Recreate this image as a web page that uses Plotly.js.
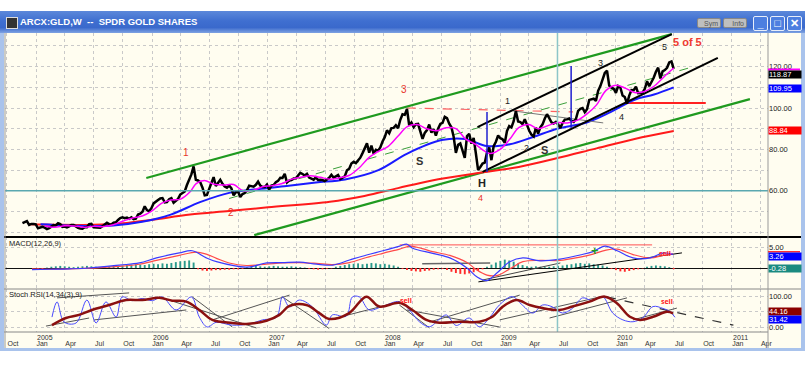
<!DOCTYPE html>
<html><head><meta charset="utf-8">
<script src="https://cdn.plot.ly/plotly-3.0.1.min.js"></script>
<style>
body{margin:0;background:#fff;width:807px;height:366px;overflow:hidden;font-family:Arial,"Liberation Sans",sans-serif;}
#win{position:absolute;left:0;top:11px;width:805px;height:340px;background:#a9c3ec;}
#cream{position:absolute;left:4px;top:33px;width:797px;height:315px;background:#fffdf0;}
#tbar{position:absolute;left:0;top:11px;width:805px;height:22px;background:linear-gradient(#5c88da,#3f6fd0 45%,#3a69cc 75%,#7ea2e2);}
#ico{position:absolute;left:6px;top:17px;width:10px;height:10px;background:#333;border:1px solid #ddd;}
.btn{position:absolute;top:18px;height:10px;width:24px;background:#bfbfbf;border:1px solid #888;border-radius:2px;font-size:7px;line-height:10px;color:#555;text-align:right;padding-right:2px;box-sizing:border-box;}
.wc{position:absolute;top:16px;width:15px;height:15px;background:#4d7fe0;border:1px solid #e8eefa;border-radius:2px;box-sizing:border-box;color:#fff;font-size:11px;line-height:13px;text-align:center;font-weight:bold;}
#chart{position:absolute;left:0;top:0;}
</style></head>
<body>
<div id="win"></div><div id="cream"></div><div id="tbar"></div><div id="ico"></div>
<div class="btn" style="left:697px">Sym</div><div class="btn" style="left:723px">Info</div>
<div class="wc" style="left:753px">_</div><div class="wc" style="left:770px">&#9633;</div><div class="wc" style="left:787px">&#10005;</div>
<div id="chart"></div>
<script>
// ---------------- DATA ----------------
const priceStart = '2004-11-19';           // first weekly bar (Friday)
const close2004 = [44.4,44.9,45.4,43.5,44.0,43.9,43.8];
const close2005 = [41.9,42.3,42.6,42.2, 41.5,42.0,42.6,43.4, 43.3,44.3,43.9,42.6, 42.7,42.3,42.8,43.5,43.5,
  42.6,42.1,41.8,41.7, 42.4,42.4,43.9,44.0, 42.4,42.3,42.1,42.2,42.9, 43.6,44.6,43.9,43.7,
  44.6,44.8,45.9,46.8,47.2, 46.8,47.1,46.5,47.2, 46.3,46.5,48.5,48.9, 49.9,52.5,50.7,50.1,51.6];
const close2006 = [53.9,54.9,55.5,56.3, 56.5,54.4,54.6,55.9, 56.4,54.2,55.4,56.1,58.2, 58.9,59.7,62.8,65.2,
  67.9,71.8,65.3,65.0, 64.1,61.5,57.8,58.0,61.2, 63.4,66.6,62.3,63.8, 65.3,63.4,62.1,61.5,
  62.5,61.2,57.8,59.3,59.7, 57.0,58.4,58.9,60.2, 62.5,62.2,62.0,62.9, 64.4,62.5,61.8,61.8,63.0];
const close2007 = [60.6,62.5,62.8,64.1, 64.8,66.3,66.2,68.2, 64.0,64.9,65.2,65.9,66.0, 67.4,68.7,68.1,67.4,
  68.2,66.4,65.9,65.4, 66.5,65.2,65.3,65.2,64.7, 65.4,66.3,67.7,66.4, 67.0,67.6,65.7,66.5,67.0,
  69.9,70.7,73.2,74.0, 73.4,74.8,76.0,78.2, 80.4,82.9,78.4,81.8,78.0, 79.8,79.4,80.9,83.8];
const close2008 = [85.9,89.2,87.8,90.3, 90.4,91.7,90.2,94.3,97.0, 96.7,99.5,91.6,93.0, 90.8,92.2,92.3,88.3,
  85.1,88.0,89.3,92.0,88.1, 89.8,86.7,90.0,92.3, 92.8,95.7,95.1,92.4, 90.7,86.1,78.3,82.2,82.9,
  79.5,75.9,86.4,87.5, 82.8,85.5,78.0,70.0,71.5, 73.2,73.6,78.6,80.9, 74.8,81.6,83.7,86.7];
const close2009 = [85.4,84.9,83.2,88.9,91.3, 90.6,93.6,98.6,93.5, 93.2,92.2,94.6,91.6, 89.0,87.1,86.2,90.5,
  87.7,90.7,92.1,94.9,97.0, 95.1,93.1,92.5,93.3, 92.1,90.3,92.8,94.4,94.5, 94.9,93.8,93.3,94.7,
  98.6,99.6,100.0,98.0, 99.4,103.9,104.1,104.5,103.4, 108.3,110.6,113.3,116.9, 118.0,110.8,109.8,109.3];
const close2010 = [107.3,110.6,109.9,106.0,105.3, 102.1,106.0,108.7,108.6, 110.3,107.2,107.4,107.4,
  109.3,112.9,110.5,112.4,114.6, 117.5,119.5,114.3,117.7, 118.3,119.4,122.0,122.5, 118.87];

// moving averages
const maFastDates = ['2005-01-28','2005-03-01','2005-04-01','2005-05-01','2005-06-01','2005-07-01','2005-08-01','2005-09-01','2005-10-01','2005-11-01','2005-12-01',
 '2006-01-01','2006-02-01','2006-03-01','2006-04-01','2006-05-01','2006-05-20','2006-06-15','2006-07-15','2006-08-15','2006-09-15','2006-10-15','2006-11-15','2006-12-15',
 '2007-01-15','2007-02-15','2007-03-15','2007-04-15','2007-05-15','2007-06-15','2007-07-15','2007-08-15','2007-09-15','2007-10-15','2007-11-15','2007-12-15',
 '2008-01-15','2008-02-15','2008-03-15','2008-04-15','2008-05-15','2008-06-15','2008-07-15','2008-08-15','2008-09-15','2008-10-15','2008-11-15','2008-12-01',
 '2009-01-01','2009-02-01','2009-03-01','2009-04-01','2009-05-01','2009-06-01','2009-07-01','2009-08-01','2009-09-01','2009-10-01','2009-11-01','2009-12-01',
 '2010-01-01','2010-02-01','2010-03-01','2010-04-01','2010-05-01','2010-06-01','2010-07-02'];
const maFast = [43.0,42.4,43.1,43.0,42.4,42.9,42.7,43.6,45.3,46.9,47.8,
 50.3,54.0,55.6,56.0,59.5,63.5,65.0,63.2,62.8,63.0,60.0,60.2,62.0,
 62.5,63.5,65.5,66.5,67.3,66.5,65.6,66.3,67.5,71.0,76.0,79.0,
 81.5,86.5,91.0,92.0,90.0,89.0,90.5,90.0,85.0,82.5,79.0,78.0,
 80.0,85.0,90.5,92.0,90.0,91.5,93.0,92.8,94.0,97.0,101.5,108.5,
 111.0,109.5,107.5,108.0,110.5,115.0,119.3];
const maMidDates = ['2005-01-15','2005-06-01','2005-09-01','2005-12-01','2006-03-01','2006-06-01','2006-09-01','2006-12-01','2007-03-01','2007-06-01','2007-09-01','2007-12-15',
 '2008-03-15','2008-07-01','2008-09-15','2008-11-21','2009-02-01','2009-04-15','2009-07-01','2009-10-01','2009-12-15','2010-03-01','2010-05-01','2010-07-02'];
const maMid = [43.8,43.0,43.2,45.0,48.5,54.5,59.0,60.8,62.3,64.0,65.5,70.0,
 78.0,84.5,85.0,81.6,82.5,86.0,90.0,93.0,98.0,104.0,106.5,109.95];
const maSlowDates = ['2004-12-10','2005-03-01','2005-07-01','2005-10-01','2006-01-01','2006-05-01','2006-09-01','2007-01-01','2007-07-15','2007-11-01',
 '2008-02-15','2008-06-01','2008-10-25','2009-03-01','2009-07-01','2009-11-01','2010-03-01','2010-07-02'];
const maSlow = [43.8,43.6,43.6,44.3,46.0,48.5,50.2,52.0,54.7,57.5,61.3,65.0,68.6,71.5,75.8,80.5,85.0,88.84];

// drawn trend lines (start / end)
const greenUpper = {x:['2005-12-14','2010-06-26'], y:[66.2,135.7]};
const greenLower = {x:['2006-11-19','2011-02-27'], y:[38.6,104.3]};
const greenMid   = {x:['2006-09-01','2010-09-10'], y:[56.3,120.3]};
const blackUpper = {x:['2008-10-22','2010-06-26'], y:[90.8,135.7]};
const blackLower = {x:['2008-11-07','2010-11-18'], y:[69.1,124.2]};
const neckLine   = {x:['2009-02-11','2009-11-22'], y:[98.6,92.8]};
const redDashed  = {x:['2008-03-13','2009-08-19'], y:[100.0,98.1]};
const redSupport = {x:['2010-01-29','2010-10-11'], y:[102.4,102.4]};
const blueVert1  = {x:['2008-11-21','2008-11-21'], y:[98.1,69.1]};
const blueVert2  = {x:['2009-08-13','2009-08-13'], y:[120.3,90.3]};

// MACD(12,26,9)
const histStart = '2005-01-07';   // biweekly histogram bars
const macdHist = [-0.2,-0.3,0.1,
 0.3,0.4,0.5,0.4,0.3,0.2,0.3,0.4,0.5,0.4,0.3,0.2,0.3,0.4,0.5,
 0.5,0.6,0.7,0.8,0.9,0.8,0.7,
 0.9,1.0,0.9,1.1,1.0,1.2,1.4,1.6,1.7,1.8,1.3,
 -0.3,-0.6,-0.7,-0.6,-0.5,-0.5,-0.4,-0.4,-0.3,-0.3,-0.2,
 0.2,0.4,0.5,0.4,0.3,0.4,0.5,0.4,0.3,0.3,0.4,0.3,0.2,0.1,
 -0.2,-0.3,-0.4,-0.3,-0.2,-0.1,
 0.3,0.5,0.7,0.9,1.0,1.1,0.9,1.0,1.2,1.1,0.9,1.0,0.8,0.6,0.3,
 -0.2,-0.5,-0.7,-0.8,-0.9,-0.7,-0.6,-0.4,-0.3,-0.2,
 -0.5,-0.9,-1.2,-1.4,-1.5,-1.3,-1.0,-0.7,-0.3,0.3,
 0.8,1.3,1.7,2.0,1.8,1.5,1.1,0.7,0.4,
 0.3,0.4,0.3,0.2,0.3,0.4,
 0.5,0.6,0.8,0.9,1.1,1.2,1.0,1.1,0.9,0.8,0.6,0.3,
 -0.2,-0.5,-0.8,-0.9,-0.7,-0.5,-0.3,-0.1,
 0.3,0.5,0.6,0.5,0.4,0.2,-0.28];
const macdDates = ['2004-12-19','2005-02-11','2005-04-15','2005-06-17','2005-09-20','2005-11-22','2006-01-15','2006-03-28','2006-05-08','2006-06-21','2006-07-23','2006-10-25',
 '2006-12-28','2007-02-16','2007-04-11','2007-06-03','2007-07-24','2007-09-15','2007-11-08','2007-12-29','2008-02-20','2008-03-13','2008-04-01','2008-06-03',
 '2008-07-27','2008-09-19','2008-10-20','2008-11-21','2008-12-22','2009-02-01','2009-03-14','2009-05-07','2009-07-09','2009-09-10','2009-10-21','2009-11-28',
 '2010-01-05','2010-02-24','2010-04-19','2010-05-30','2010-06-30'];
const macdLine = [-0.4,-0.3,-0.2,0.0,0.7,1.2,2.4,3.6,4.1,2.4,1.5,0.2,
 1.2,1.3,1.4,0.9,0.7,1.9,3.1,4.1,5.2,5.7,4.7,3.5,
 2.4,0.0,-2.1,-3.0,-1.2,1.5,2.4,1.7,2.1,3.1,3.9,5.2,
 4.1,2.4,2.4,3.6,3.26];
const signalDates = ['2004-12-19','2005-03-01','2005-06-01','2005-09-20','2005-11-22','2006-01-15','2006-03-28','2006-05-20','2006-06-21','2006-07-23','2006-09-01','2006-10-25',
 '2006-12-28','2007-02-16','2007-04-11','2007-06-03','2007-07-24','2007-09-15','2007-11-08','2007-12-29','2008-02-20','2008-03-25','2008-05-01','2008-06-03',
 '2008-07-27','2008-09-19','2008-10-20','2008-11-21','2008-12-22','2009-02-01','2009-03-14','2009-05-07','2009-07-09','2009-09-10','2009-10-21','2009-11-28',
 '2010-01-05','2010-02-24','2010-04-19','2010-05-30','2010-06-30'];
const signalLine = [-0.2,-0.3,-0.1,0.4,0.9,1.8,3.0,3.8,3.3,2.3,1.2,0.6,
 0.9,1.2,1.3,1.1,0.8,1.3,2.5,3.5,4.5,5.2,4.6,3.9,
 3.0,1.3,-0.5,-1.7,-1.8,-0.2,1.5,1.8,1.8,2.6,3.3,4.2,
 4.5,3.2,2.4,3.0,3.4];
const macdRedLevel = {x:['2008-02-20','2010-04-25'], y:[5.5,5.5]};
const macdTrend1 = {x:['2008-10-25','2010-07-28'], y:[-3.3,3.6]};
const macdTrend2 = {x:['2008-11-05','2009-07-10'], y:[-2.9,1.2]};
const macdFlat   = {x:['2008-05-01','2008-12-01'], y:[1.0,1.2]};

// Stoch RSI(14,34(3),9)
const stochSlowDates = ['2005-02-20','2005-04-05','2005-05-16','2005-06-26','2005-08-19','2005-10-11','2005-12-01','2006-01-24','2006-03-06','2006-04-19','2006-05-30','2006-07-10',
 '2006-09-11','2006-10-25','2006-12-27','2007-02-06','2007-03-10','2007-05-02','2007-06-12','2007-07-13','2007-09-14','2007-11-07','2007-12-18','2008-02-19',
 '2008-03-31','2008-05-14','2008-06-24','2008-08-26','2008-10-28','2008-12-08','2009-01-09','2009-02-22','2009-04-04','2009-05-15','2009-07-07','2009-08-17',
 '2009-10-10','2009-11-27','2010-01-04','2010-02-14','2010-03-18','2010-04-28','2010-06-11','2010-06-30'];
const stochSlow = [6,29,39,55,71,87,87,94,85,82,55,23,
 13,10,20,39,68,71,45,26,45,98,66,78,
 55,23,14,17,17,33,65,87,71,61,55,66,
 82,98,77,33,23,33,49,44.16];
const stochFastDates = ['2005-02-20','2005-03-08','2005-03-30','2005-05-07','2005-06-10','2005-07-09','2005-08-09','2005-09-10','2005-09-29','2005-10-30','2005-12-01','2006-01-02',
 '2006-02-02','2006-03-18','2006-05-05','2006-05-30','2006-06-24','2006-07-22','2006-09-11','2006-11-04','2006-12-15','2007-01-28','2007-02-16','2007-03-10',
 '2007-04-10','2007-05-21','2007-07-04','2007-07-23','2007-09-05','2007-09-24','2007-10-16','2007-11-16','2007-12-27','2008-02-19','2008-03-22','2008-04-22',
 '2008-05-24','2008-06-24','2008-07-16','2008-08-16','2008-09-26','2008-10-28','2008-11-29','2008-12-30','2009-02-09','2009-03-13','2009-04-14','2009-05-15',
 '2009-06-15','2009-07-17','2009-08-17','2009-09-18','2009-10-19','2009-11-20','2009-12-22','2010-01-23','2010-02-24','2010-03-27','2010-04-28','2010-05-29',
 '2010-06-20','2010-07-06'];
const stochFast = [32,81,16,13,87,13,81,32,97,85,92,85,
 97,55,97,32,0,15,6,10,23,32,97,65,
 87,65,6,39,35,97,97,55,66,82,55,17,
 1,25,39,5,29,1,30,71,98,70,45,71,
 65,45,60,94,85,98,45,23,17,30,66,60,
 50,31.42];
// trend lines drawn on the Stoch RSI panel
const stochTrendStart = ['2005-02-01','2005-03-08','2005-07-03','2006-01-24','2006-05-08','2006-07-10','2007-02-16','2007-07-23',
 '2008-02-19','2008-03-13','2008-05-24','2008-12-31','2009-06-06','2010-02-24'];
const stochTrendEnd   = ['2005-06-17','2005-10-21','2006-04-19','2006-11-26','2006-09-11','2007-03-10','2007-07-13','2008-02-19',
 '2008-05-24','2008-12-31','2009-03-04','2009-11-12','2010-02-05','2010-07-12'];
const stochTrendFrom  = [3,94,23,97,97,23,97,26,71,55,16,23,29,23];
const stochTrendTo    = [29,110,55,-3,0,103,-5,81,-3,0,103,97,94,61];
const stochDashed = {x:['2009-12-04','2011-01-06'], y:[97,6]};

// x-axis ticks
const tickDates = ['2004-10-01','2005-01-01','2005-04-01','2005-07-01','2005-10-01','2006-01-01','2006-04-01','2006-07-01','2006-10-01',
 '2007-01-01','2007-04-01','2007-07-01','2007-10-01','2008-01-01','2008-04-01','2008-07-01','2008-10-01','2009-01-01','2009-04-01',
 '2009-07-01','2009-10-01','2010-01-01','2010-04-01','2010-07-01','2010-10-01','2011-01-01','2011-04-01'];
const tickMonths = ['Oct','Jan','Apr','Jul','Oct','Jan','Apr','Jul','Oct','Jan','Apr','Jul','Oct','Jan','Apr','Jul','Oct','Jan','Apr','Jul','Oct','Jan','Apr','Jul','Oct','Jan','Apr'];
const yearLabels = ['2005','2006','2007','2008','2009','2010','2011'];

// ---------------- BUILD ----------------
const DAY = 86400000;
function seq(start, n, step){const t0=Date.parse(start);const out=[];for(let i=0;i<n;i++)out.push(new Date(t0+i*step*DAY).toISOString().slice(0,10));return out;}
const closes = [].concat(close2004,close2005,close2006,close2007,close2008,close2009,close2010);
const weeks = seq(priceStart, closes.length, 7);
const histDates = seq(histStart, macdHist.length, 14);

const T=33,B=332,Lp=5,Rp=768;
const py = v => (B-v)/(B-T);
const pxp = v => (v-Lp)/(Rp-Lp);

function ln(o, color, width, yaxis, dash){return {type:'scatter',mode:'lines',x:o.x,y:o.y,yaxis:yaxis||'y',line:{color:color,width:width,dash:dash||'solid'},hoverinfo:'skip'};}
const stX=[], stY=[];
stochTrendStart.forEach((s,i)=>{stX.push(s,stochTrendEnd[i],null);stY.push(stochTrendFrom[i],stochTrendTo[i],null);});

const traces = [
 {type:'bar',x:histDates,y:macdHist,yaxis:'y2',width:6*DAY,marker:{color:macdHist.map(v=>v>=0?'#2a9a8c':'#ff2a2a'),line:{width:0}},hoverinfo:'skip'},
 ln(redSupport,'#ff2020',2), ln(redDashed,'#ff6060',1.2,'y','dash'),
 ln(greenMid,'#3aa03a',1,'y','dash'),
 ln(greenUpper,'#1f9a1f',2.2), ln(greenLower,'#1f9a1f',2.2),
 {type:'scatter',mode:'lines',x:maSlowDates,y:maSlow,line:{color:'#ff1a1a',width:2,shape:'spline'},hoverinfo:'skip'},
 {type:'scatter',mode:'lines',x:maMidDates,y:maMid,line:{color:'#1a1aff',width:2,shape:'spline'},hoverinfo:'skip'},
 ln(neckLine,'#777',1),
 ln(blackUpper,'#000',2), ln(blackLower,'#000',2),
 {type:'scatter',mode:'lines',x:weeks,y:closes,line:{color:'#000',width:2.5},hoverinfo:'skip'},
 {type:'scatter',mode:'lines',x:maFastDates,y:maFast,line:{color:'#ff00ff',width:1.5,shape:'spline'},hoverinfo:'skip'},
 ln(blueVert1,'#2020d0',1.5), ln(blueVert2,'#2020d0',1.5),
 // MACD lines
 ln(macdRedLevel,'#ff5050',1,'y2'),
 ln(macdTrend1,'#000',1,'y2'), ln(macdTrend2,'#444',1,'y2'), ln(macdFlat,'#666',1.5,'y2'),
 {type:'scatter',mode:'lines',x:signalDates,y:signalLine,yaxis:'y2',line:{color:'#ff4a4a',width:1.2,shape:'spline'},hoverinfo:'skip'},
 {type:'scatter',mode:'lines',x:macdDates,y:macdLine,yaxis:'y2',line:{color:'#3b3bff',width:1.2,shape:'spline'},hoverinfo:'skip'},
 // Stoch RSI
 {type:'scatter',mode:'lines',x:stX,y:stY,yaxis:'y3',line:{color:'#555',width:1},connectgaps:false,hoverinfo:'skip'},
 ln(stochDashed,'#333',1.2,'y3','dash'),
 {type:'scatter',mode:'lines',x:stochFastDates,y:stochFast,yaxis:'y3',line:{color:'#4a4aff',width:1,shape:'spline'},hoverinfo:'skip'},
 {type:'scatter',mode:'lines',x:stochSlowDates,y:stochSlow,yaxis:'y3',line:{color:'#8b1010',width:2.5,shape:'spline'},hoverinfo:'skip'}
];

const fontAx = {family:'Arial, Liberation Sans, sans-serif',size:7.5,color:'#222'};
const grid = {showgrid:true,gridcolor:'#c9c9c9',griddash:'dot',gridwidth:1};
const mainTicks = [40,50,60,70,80,90,100,110,120,130];
const layout = {
 width:807,height:366,margin:{l:Lp,r:807-Rp,t:T,b:366-B},
 paper_bgcolor:'rgba(0,0,0,0)',plot_bgcolor:'rgba(0,0,0,0)',showlegend:false,hovermode:false,
 title:{text:'<b>ARCX:GLD,W  --  SPDR GOLD SHARES</b>',x:20/807,xanchor:'left',xref:'container',y:1-22/366,yanchor:'middle',yref:'container',font:{family:'Arial, Liberation Sans',size:9.5,color:'#fff'}},
 xaxis:Object.assign({type:'date',range:['2004-09-25','2011-04-25'],anchor:'y3',tickmode:'array',tickvals:tickDates,ticktext:tickMonths,ticks:'',
   tickfont:{family:'Arial, Liberation Sans',size:7,color:'#333'},ticklabelshift:6,ticklabelstandoff:6,showline:false,zeroline:false},grid),
 yaxis:Object.assign({domain:[py(237),1],range:[37.68,136.23],side:'right',tickmode:'array',tickvals:mainTicks,
   ticktext:mainTicks.map(v=>(v%20===0&&v>=60&&v<=120)?v.toFixed(2):''),ticks:'',tickfont:fontAx,zeroline:false},grid),
 yaxis2:Object.assign({domain:[py(289),py(237)],range:[-5.0,7.38],side:'right',tickmode:'array',tickvals:[5],ticktext:['5.00'],ticks:'',tickfont:fontAx,
   zeroline:true,zerolinecolor:'#111',zerolinewidth:1},grid),
 yaxis3:Object.assign({domain:[0,py(289)],range:[-16.1,122.6],side:'right',tickmode:'array',tickvals:[0,50,100],ticktext:['0.00','','100.00'],ticks:'',tickfont:fontAx,zeroline:false},grid),
 shapes:[
  {type:'line',xref:'paper',yref:'y',x0:0,x1:1,y0:60,y1:60,line:{color:'#5aa8b0',width:1.5}},
  {type:'line',xref:'x',yref:'paper',x0:'2009-07-01',x1:'2009-07-01',y0:0,y1:1,line:{color:'#8cc6c8',width:1.5}},
  {type:'line',xref:'paper',yref:'paper',x0:pxp(4),x1:pxp(801),y0:py(237),y1:py(237),line:{color:'#000',width:2}},
  {type:'line',xref:'paper',yref:'paper',x0:pxp(4),x1:pxp(801),y0:py(289),y1:py(289),line:{color:'#888',width:1}},
  {type:'line',xref:'paper',yref:'paper',x0:pxp(4),x1:1,y0:0,y1:0,line:{color:'#888',width:1}},
  {type:'line',xref:'paper',yref:'paper',x0:1,x1:1,y0:py(348),y1:1,line:{color:'#999',width:1}},
  {type:'line',xref:'paper',yref:'paper',x0:pxp(5),x1:pxp(5),y0:py(348),y1:1,line:{color:'#999',width:1}},
  // coloured marker strips above the value boxes
  {type:'rect',xref:'paper',yref:'paper',x0:1,x1:pxp(800),y0:py(70.5),y1:py(68.5),fillcolor:'#ff00ff',line:{width:0}},
  {type:'rect',xref:'paper',yref:'paper',x0:1,x1:pxp(800),y0:py(252.5),y1:py(251),fillcolor:'#ff3030',line:{width:0}}
 ],
 annotations:[]
};
const A = layout.annotations;
function lab(x,y,t,c,s,extra){A.push(Object.assign({xref:'x',yref:'y',x:x,y:y,text:t,showarrow:false,font:{family:'Arial, Liberation Sans',size:s,color:c}},extra||{}));}
lab('2006-04-19',78.3,'1','#e8332a',10); lab('2006-09-08',49.3,'2','#e8332a',10);
lab('2008-03-06',108.7,'3','#e8332a',10); lab('2008-11-01',56.6,'4','#e8332a',9);
lab('2010-08-16',131.9,'<b>5 of 5</b>','#f03a30',11);
lab('2008-04-22',74.4,'<b>S</b>','#333',11); lab('2008-11-04',63.6,'<b>H</b>','#222',11); lab('2009-05-22',79.7,'<b>S</b>','#333',11);
lab('2009-01-25',103.4,'1','#222',9); lab('2009-03-26',80.7,'2','#222',9); lab('2009-11-12',121.7,'3','#222',9);
lab('2010-01-19',95.7,'4','#222',9); lab('2010-06-04',129.5,'5','#222',9);
// indicator marks
A.push({xref:'x',yref:'y2',x:'2009-10-25',y:4.2,text:'<b>+</b>',showarrow:false,font:{size:13,color:'#1f9a1f'}});
A.push({xref:'x',yref:'y2',x:'2010-06-05',y:3.4,text:'<b>sell</b>',showarrow:false,font:{size:7,color:'#ff2020'}});
A.push({xref:'x',yref:'y3',x:'2008-03-10',y:86,text:'<b>sell</b>',showarrow:false,font:{size:7,color:'#ff2020'}});
A.push({xref:'x',yref:'y3',x:'2010-06-10',y:82,text:'<b>sell</b>',showarrow:false,font:{size:7,color:'#ff2020'}});
// panel titles
A.push({xref:'paper',yref:'paper',x:pxp(7),y:py(243),xanchor:'left',yanchor:'middle',text:'MACD(12,26,9)',showarrow:false,font:{family:'Arial, Liberation Sans',size:7.5,color:'#222'}});
A.push({xref:'paper',yref:'paper',x:pxp(7),y:py(294),xanchor:'left',yanchor:'middle',text:'Stoch RSI(14,34(3),9)',showarrow:false,font:{family:'Arial, Liberation Sans',size:7.5,color:'#222'}});
// year labels
yearLabels.forEach(y=>A.push({xref:'x',yref:'paper',x:y+'-01-01',y:py(333),xanchor:'left',yanchor:'top',text:y,showarrow:false,borderpad:0,font:{family:'Arial, Liberation Sans',size:7,color:'#333'}}));
// value boxes on the right scale
function box(yref,y,t,bg,fg){A.push({xref:'paper',yref:yref,x:1,y:y,xanchor:'left',yanchor:'middle',text:t,showarrow:false,bgcolor:bg,width:32,height:7,align:'left',borderpad:0,font:{family:'Arial, Liberation Sans',size:7.5,color:fg||'#fff'}});}
box('y',116.2,'118.87','#000');
box('y',109.4,'109.95','#0000ff');
box('y',88.9,'88.84','#ff0000');
box('y2',2.8,'3.26','#0000ff');
box('y2',-0.12,'-0.28','#1a8a80');
box('y3',50.5,'44.16','#8b0000');
box('y3',23.5,'31.42','#0000ff');

Plotly.newPlot('chart',traces,layout,{displayModeBar:false,staticPlot:true});
</script>
</body></html>
